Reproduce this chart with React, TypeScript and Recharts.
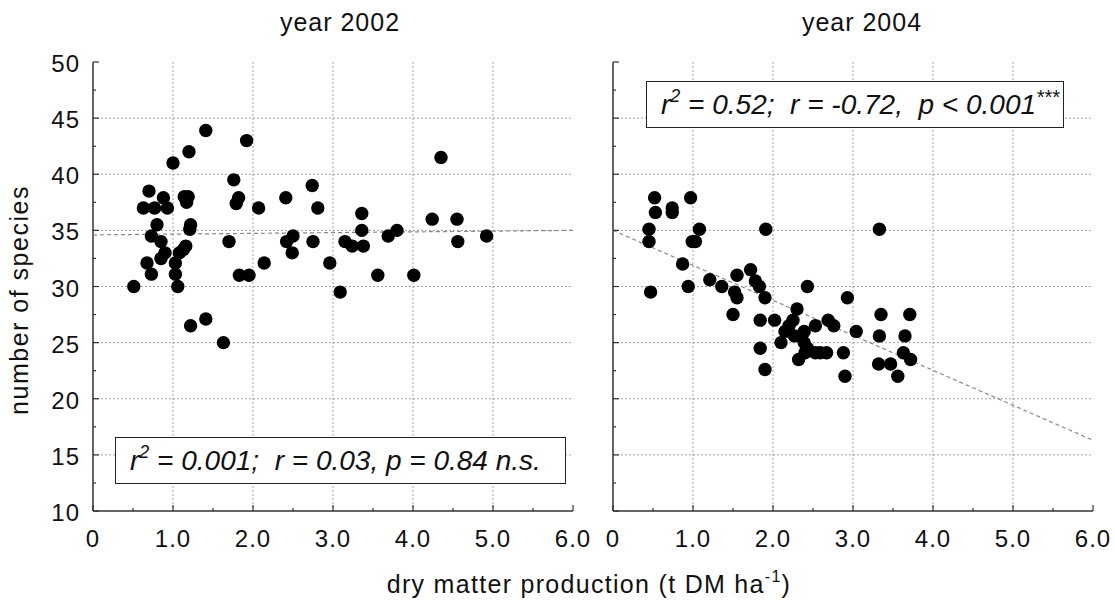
import React from 'react';
import { ScatterChart, Scatter, XAxis, YAxis, CartesianGrid } from 'recharts';

// ---------- data ----------
const xTicks = [0, 0.5, 1, 1.5, 2, 2.5, 3, 3.5, 4, 4.5, 5, 5.5, 6];
const yTicks = [10, 12.5, 15, 17.5, 20, 22.5, 25, 27.5, 30, 32.5, 35, 37.5, 40, 42.5, 45, 47.5, 50];
const xMajorTicks = [0, 1, 2, 3, 4, 5, 6];
const yMajorTicks = [10, 15, 20, 25, 30, 35, 40, 45, 50];
const xGridValues = [1, 2, 3, 4, 5];
const yGridValues = [15, 20, 25, 30, 35, 40, 45];
const panelTitles = ['year 2002', 'year 2004'];
const statsLeft = 'r2 = 0.001;  r = 0.03, p = 0.84 n.s.';
const statsRight = 'r2 = 0.52;  r = -0.72,  p < 0.001***';

const x2002 = [0.51, 0.70, 0.63, 0.77, 0.88, 0.93, 1.0, 1.20, 1.41, 1.92, 0.80, 0.73, 0.85, 0.90, 0.85, 0.675, 0.73, 1.03, 1.03, 1.06, 1.08, 1.13, 1.16, 1.14, 1.19, 1.17, 1.22, 1.21, 1.22, 1.41, 1.63, 1.70, 1.76, 1.82, 1.79, 1.83, 1.95, 2.07, 2.14, 2.41, 2.42, 2.50, 2.49, 2.74, 2.81, 2.75, 2.96, 3.09, 3.15, 3.24, 3.36, 3.36, 3.38, 3.56, 3.69, 3.80, 4.01, 4.24, 4.35, 4.55, 4.56, 4.92];
const y2002 = [30.0, 38.5, 37.0, 37.0, 37.9, 37.0, 41.0, 42.0, 43.9, 43.0, 35.5, 34.5, 34.0, 33.0, 32.5, 32.1, 31.1, 32.1, 31.1, 30.0, 33.0, 33.3, 33.6, 38.0, 38.0, 37.5, 35.5, 35.1, 26.5, 27.1, 25.0, 34.0, 39.5, 37.9, 37.4, 31.0, 31.0, 37.0, 32.1, 37.9, 34.0, 34.5, 33.0, 39.0, 37.0, 34.0, 32.1, 29.5, 34.0, 33.6, 36.5, 35.0, 33.6, 31.0, 34.5, 35.0, 31.0, 36.0, 41.5, 36.0, 34.0, 34.5];

const x2004 = [0.52, 0.53, 0.74, 0.74, 0.97, 0.45, 0.45, 1.08, 0.99, 1.03, 0.47, 0.87, 0.94, 1.21, 1.36, 1.55, 1.52, 1.55, 1.50, 1.72, 1.78, 1.83, 1.90, 1.91, 1.84, 2.02, 1.84, 1.90, 2.10, 2.15, 2.20, 2.25, 2.30, 2.27, 2.39, 2.43, 2.39, 2.43, 2.32, 2.40, 2.53, 2.59, 2.67, 2.53, 2.69, 2.76, 2.88, 2.93, 2.90, 3.04, 3.33, 3.35, 3.33, 3.32, 3.47, 3.56, 3.71, 3.65, 3.63, 3.72, 5.02];
const y2004 = [37.9, 36.6, 37.0, 36.6, 37.9, 35.1, 34.0, 35.1, 34.0, 34.0, 29.5, 32.0, 30.0, 30.6, 30.0, 31.0, 29.5, 29.0, 27.5, 31.5, 30.5, 30.0, 29.0, 35.1, 27.0, 27.0, 24.5, 22.6, 25.0, 26.0, 26.5, 27.0, 28.0, 25.6, 26.0, 30.0, 25.0, 24.5, 23.5, 24.1, 24.1, 24.1, 24.1, 26.5, 27.0, 26.5, 24.1, 29.0, 22.0, 26.0, 35.1, 27.5, 25.6, 23.1, 23.1, 22.0, 27.5, 25.6, 24.1, 23.5];

const fitX = [0, 6];
const fit2002Y = [34.6, 35.0];
const fit2004Y = [35.0, 16.3];

const toPoints = (xs: number[], ys: number[]) => xs.map((x, i) => ({ x, y: ys[i] }));

// ---------- style ----------
const FONT = '"Liberation Sans", Arial, Helvetica, sans-serif';
const AXIS = '#333';
const W = 556;
const H = 604;
const MARGIN = { top: 62, right: 20, bottom: 63, left: 0 };

const isMajor = (v: number, step: number) => Math.abs(v / step - Math.round(v / step)) < 1e-6;
const fmtX = (v: number) => (v === 0 ? '0' : v.toFixed(1));

const makeBottomTick = (showLabel: boolean) => (p: any) => {
  const v = p.payload.value;
  const major = isMajor(v, 1);
  return (
    <g>
      <line x1={p.x} y1={p.y} x2={p.x} y2={p.y - (major ? 6 : 3)} stroke={AXIS} strokeWidth={1.2} />
      {showLabel && major && (
        <text x={p.x} y={p.y + 36} textAnchor="middle" fontFamily={FONT} fontSize={24} letterSpacing={1} fill="#111">
          {fmtX(v)}
        </text>
      )}
    </g>
  );
};

const makeLeftTick = (showLabel: boolean) => (p: any) => {
  const v = p.payload.value;
  const major = isMajor(v, 5);
  return (
    <g>
      <line x1={p.x} y1={p.y} x2={p.x + (major ? 6 : 3)} y2={p.y} stroke={AXIS} strokeWidth={1.2} />
      {showLabel && major && (
        <text x={p.x - 13} y={p.y + 10} textAnchor="end" fontFamily={FONT} fontSize={24} letterSpacing={1} fill="#111">
          {v}
        </text>
      )}
    </g>
  );
};

const TopTick = (p: any) => (
  <line x1={p.x} y1={p.y} x2={p.x} y2={p.y + 5} stroke={AXIS} strokeWidth={1.2} />
);
const RightTick = (p: any) => (
  <line x1={p.x} y1={p.y} x2={p.x - 6} y2={p.y} stroke={AXIS} strokeWidth={1.2} />
);

const Dot = (p: any) => <circle cx={p.cx} cy={p.cy} r={6.7} fill="#000" />;
const NoDot = () => <g />;

function Panel({ data, fit, showYLabels }: { data: { x: number; y: number }[]; fit: { x: number; y: number }[]; showYLabels: boolean }) {
  return (
    <ScatterChart width={W} height={H} margin={MARGIN}>
      <CartesianGrid
        stroke="#a0a0a0"
        strokeWidth={1}
        strokeDasharray="2 2"
        horizontalValues={yGridValues}
        verticalValues={xGridValues}
      />
      <XAxis
        dataKey="x"
        type="number"
        domain={[0, 6]}
        ticks={xTicks}
        interval={0}
        height={30}
        tickLine={false}
        tickSize={0}
        tickMargin={0}
        axisLine={{ stroke: AXIS, strokeWidth: 1.5 }}
        tick={makeBottomTick(true)}
        allowDataOverflow
      />
      <XAxis
        xAxisId="top"
        orientation="top"
        type="number"
        domain={[0, 6]}
        ticks={xMajorTicks}
        interval={0}
        height={0}
        tickLine={false}
        tickSize={0}
        tickMargin={0}
        axisLine={{ stroke: AXIS, strokeWidth: 1.5 }}
        tick={TopTick}
        allowDataOverflow
      />
      <YAxis
        dataKey="y"
        type="number"
        domain={[10, 50]}
        ticks={yTicks}
        interval={0}
        width={56}
        tickLine={false}
        tickSize={0}
        tickMargin={0}
        axisLine={{ stroke: AXIS, strokeWidth: 1.5 }}
        tick={makeLeftTick(showYLabels)}
        allowDataOverflow
      />
      <YAxis
        yAxisId="right"
        orientation="right"
        type="number"
        domain={[10, 50]}
        ticks={yMajorTicks}
        interval={0}
        width={0}
        tickLine={false}
        tickSize={0}
        tickMargin={0}
        axisLine={{ stroke: AXIS, strokeWidth: 1.5 }}
        tick={RightTick}
        allowDataOverflow
      />
      <Scatter
        data={fit}
        line={{ stroke: '#8a8a8a', strokeWidth: 1.2, strokeDasharray: '4 3' }}
        shape={NoDot}
        isAnimationActive={false}
      />
      <Scatter data={data} shape={Dot} isAnimationActive={false} />
    </ScatterChart>
  );
}

const Stats = ({ text, left, top, width }: { text: string; left: number; top: number; width: number }) => {
  const rest = text.slice(2);
  const stars = rest.endsWith('***');
  const body = stars ? rest.slice(0, -3) : rest;
  return (
    <div
      style={{
        position: 'absolute',
        left,
        top,
        width,
        height: 47,
        boxSizing: 'border-box',
        border: '1.5px solid #222',
        background: '#fff',
        fontFamily: FONT,
        fontStyle: 'italic',
        fontSize: 28,
        lineHeight: '45px',
        paddingLeft: 14,
        whiteSpace: 'pre',
        color: '#111',
      }}
    >
      r<sup style={{ fontSize: 18, verticalAlign: 0, position: 'relative', top: -12 }}>2</sup>
      {body}
      {stars && <sup style={{ fontSize: 20, verticalAlign: 0, position: 'relative', top: -10 }}>***</sup>}
    </div>
  );
};

export default function App() {
  const d2002 = toPoints(x2002, y2002);
  const d2004 = toPoints(x2004, y2004);
  const f2002 = toPoints(fitX, fit2002Y);
  const f2004 = toPoints(fitX, fit2004Y);
  return (
    <div style={{ position: 'absolute', left: 0, top: 0, width: 1115, height: 604, background: '#fff', overflow: 'hidden' }}>
      <div style={{ position: 'absolute', left: 37, top: 0 }}>
        <Panel data={d2002} fit={f2002} showYLabels={true} />
      </div>
      <div style={{ position: 'absolute', left: 557, top: 0 }}>
        <Panel data={d2004} fit={f2004} showYLabels={false} />
      </div>
      <svg width={1115} height={604} style={{ position: 'absolute', left: 0, top: 0, pointerEvents: 'none' }}>
        <text x={340} y={31} textAnchor="middle" fontFamily={FONT} fontSize={25} letterSpacing={1} fill="#111">
          {panelTitles[0]}
        </text>
        <text x={862} y={31} textAnchor="middle" fontFamily={FONT} fontSize={25} letterSpacing={1} fill="#111">
          {panelTitles[1]}
        </text>
        <text
          x={28}
          y={300}
          textAnchor="middle"
          transform="rotate(-90 28 300)"
          fontFamily={FONT}
          fontSize={25}
          letterSpacing={1.5}
          fill="#111"
        >
          number of species
        </text>
        <text x={589} y={593} textAnchor="middle" fontFamily={FONT} fontSize={25} letterSpacing={1.3} fill="#111">
          dry matter production (t DM ha
          <tspan fontSize={16} dy={-11}>-1</tspan>
          <tspan dy={11}>)</tspan>
        </text>
      </svg>
      <Stats text={statsLeft} left={115} top={437} width={451} />
      <Stats text={statsRight} left={646} top={81} width={418} />
    </div>
  );
}
